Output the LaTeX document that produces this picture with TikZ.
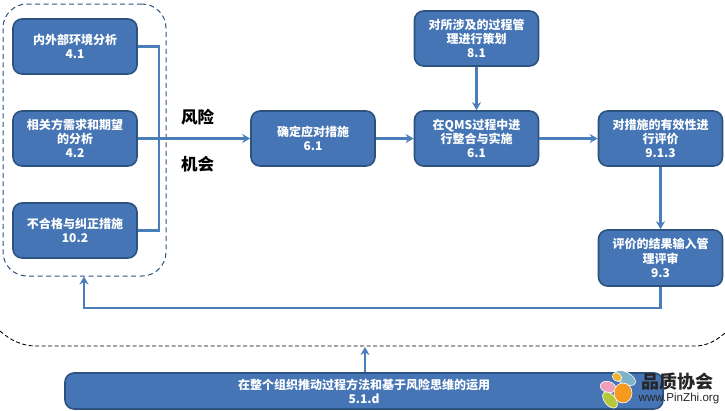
\documentclass[tikz,border=0pt]{standalone}
\usepackage{fontspec}
\setmainfont{Noto Sans CJK SC}
\newfontfamily\urlfont{Liberation Sans}
\usetikzlibrary{arrows.meta}
\definecolor{boxfill}{HTML}{4575B5}
\definecolor{boxedge}{HTML}{2C5380}
\definecolor{linkblue}{HTML}{4A7EBB}
\definecolor{petalteal}{HTML}{7FB4C8}
\definecolor{petalpink}{HTML}{EFA0B8}
\definecolor{petalorange}{HTML}{F59A1E}
\definecolor{petalgreen}{HTML}{B5C83A}
\definecolor{petaltip}{HTML}{F0B030}
\tikzset{
    procbox/.style={draw=boxedge, line width=1.6pt, fill=boxfill, rounded corners=9pt,
        minimum width=124pt, minimum height=55pt, inner sep=0pt, align=center,
        text=white, font=\fontsize{12}{14.3}\selectfont\bfseries},
    link/.style={draw=linkblue, line width=2.4pt},
    linkarrow/.style={link, -{Stealth[length=8pt,width=9pt]}},
    biglabel/.style={font=\fontsize{16.5}{18}\selectfont\bfseries, inner sep=0pt},
    petal/.style={draw=white, line width=0.6pt},
}
\begin{document}
\begin{tikzpicture}[x=1pt, y=-1pt]
    \useasboundingbox (0,0) rectangle (725,410);

    % left group
    \node[draw=boxedge, dash pattern=on 5pt off 3.5pt, line width=1pt, rounded corners=24pt, minimum width=163pt, minimum height=272pt] (group) at (84.5,140) {};
    \node[procbox] (env) at (75,46.5) {内外部环境分析\\4.1};
    \node[procbox] (party) at (75,138.5) {相关方需求和期望\\的分析\\4.2};
    \node[procbox] (nonconf) at (75,230.5) {不合格与纠正措施\\10.2};

    % main row
    \node[procbox] (response) at (313,138.5) {确定应对措施\\6.1};
    \node[procbox] (plan) at (476.5,38.5) {对所涉及的过程管\\理进行策划\\8.1};
    \node[procbox] (qms) at (476.5,138.5) {在QMS过程中进\\行整合与实施\\6.1};
    \node[procbox] (eval) at (660.5,138.5) {对措施的有效性进\\行评价\\9.1.3};
    \node[procbox, minimum height=56pt] (review) at (660.5,258) {评价的结果输入管\\理评审\\9.3};

    \node[biglabel] (risk) at (197.5,117) {风险};
    \node[biglabel] (chance) at (197.5,164) {机会};

    % outer dashed arc
    \draw[black, dash pattern=on 4pt off 2.5pt, line width=0.9pt] (0,331) .. controls (10,340) and (22,346) .. (36,346) -- (695,346) .. controls (706,346) and (716,341) .. (725,333);

    % bottom bar
    \node[procbox, minimum width=598pt, minimum height=36pt] (bar) at (364,391) {在整个组织推动过程方法和基于风险思维的运用\\5.1.d};

    % connectors
    \coordinate (bus) at (159,138.5);
    \coordinate (arcpoint) at (365,347);
    \coordinate (turn) at (660.5,308);
    \coordinate (groupin) at (84,276.5);
    \draw[link] (env.east) -| (bus);
    \draw[link] (nonconf.east) -| (bus);
    \draw[linkarrow] (party.east) -- (response.west);
    \draw[linkarrow] (response.east) -- (qms.west);
    \draw[linkarrow] (plan.south) -- (qms.north);
    \draw[linkarrow] (qms.east) -- (eval.west);
    \draw[linkarrow] (eval.south) -- (review.north);
    \draw[linkarrow] (review.south) -- (turn) -| (groupin);
    \draw[linkarrow] (bar.north -| arcpoint) -- (arcpoint);

    % logo
    \filldraw[petal, fill=petalteal] (625,378) ellipse [x radius=11.5pt, y radius=6pt, rotate=-28];
    \filldraw[petal, fill=petaltip] (617,377) ellipse [x radius=5pt, y radius=4pt, rotate=-40];
    \filldraw[petal, fill=petalpink] (608,387) ellipse [x radius=8pt, y radius=5.5pt, rotate=-15];
    \filldraw[petal, fill=petalgreen] (610,400) ellipse [x radius=9.5pt, y radius=5.5pt, rotate=-50];
    \filldraw[petal, fill=petalorange] (623,393) ellipse [x radius=9pt, y radius=10pt];
    \node[inner sep=0pt, text=black!85, font=\fontsize{18}{20}\selectfont\bfseries] (logoname) at (677.5,382) {品质协会};
    \node[inner sep=0pt, text=black!85, font=\urlfont\fontsize{11.6}{13}\selectfont] (logourl) at (679,398.5) {www.PinZhi.org};
\end{tikzpicture}
\end{document}
